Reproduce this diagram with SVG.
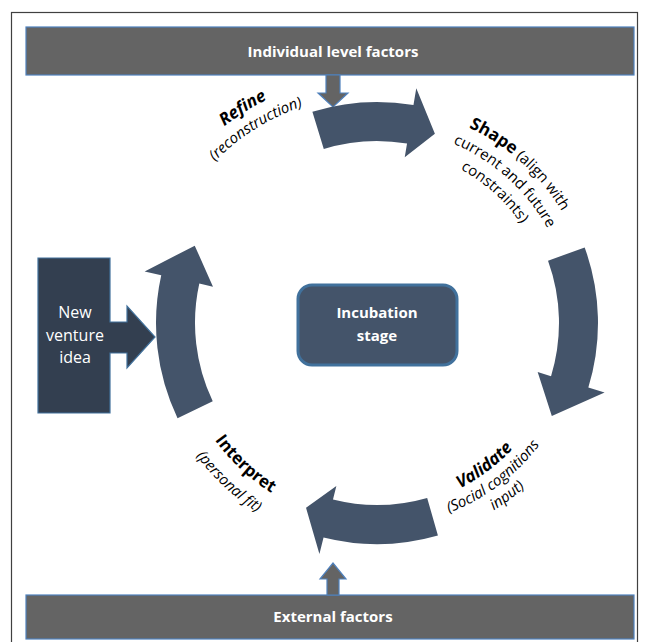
<svg xmlns="http://www.w3.org/2000/svg" width="649" height="642" viewBox="0 0 649 642">
<style>
.frame{fill:none;stroke:#404040;stroke-width:1.2}
.bar{fill:#646464;stroke:#4f81bd;stroke-width:1.2}
.cyc{fill:#44546a}
.lbl{font-family:"Open Sans","Liberation Sans",sans-serif;fill:#000;font-size:15px}
.b{font-weight:bold;font-size:17px}
.i{font-style:italic}
.w{font-family:"Open Sans","Liberation Sans",sans-serif;fill:#fff;text-anchor:middle}
</style>
<defs>
<path id="pShape1" d="M310.25,117.57 A216,216 0 0 1 588.28,367.91"/>
<path id="pShape2" d="M316.74,137.54 A195,195 0 0 1 567.74,363.54"/>
<path id="pShape3" d="M322.92,156.56 A175,175 0 0 1 548.18,359.38"/>
<path id="pVal1" d="M304.71,493.29 A185,185 0 0 0 560.62,300.45"/>
<path id="pVal2" d="M297.68,509.86 A203,203 0 0 0 578.49,298.26"/>
<path id="pVal3" d="M290.65,526.43 A221,221 0 0 0 596.35,296.07"/>
<path id="pInt1" d="M182.13,278.01 A200,200 0 0 0 435.47,514.26"/>
<path id="pInt2" d="M158.74,272.61 A224,224 0 0 0 442.49,537.21"/>
<path id="pRef1" d="M128.15,331.69 A249,249 0 0 1 493.90,103.15"/>
<path id="pRef2" d="M148.14,330.99 A229,229 0 0 1 484.51,120.80"/>
</defs>
<rect class="frame" x="11.5" y="12.5" width="626" height="640"/>

<g id="individual-factors">
<rect class="bar" x="26" y="27" width="608" height="48"/>
<text class="w" x="333" y="57" font-size="15" font-weight="bold">Individual level factors</text>
</g>
<g id="external-factors">
<rect class="bar" x="26" y="595" width="608" height="44"/>
<text class="w" x="333" y="622" font-size="15" font-weight="bold">External factors</text>
</g>
<g id="incubation">
<rect x="298" y="285" width="159" height="80" rx="14" fill="#44546a" stroke="#41719c" stroke-width="3"/>
<text class="w" font-size="15" font-weight="bold"><tspan x="377" y="318">Incubation</tspan><tspan x="377" y="341">stage</tspan></text>
</g>
<g id="new-venture-idea">
<path d="M38,258 H110 V322 H127 V306 L155,337 L127,368 V353 H110 V413 H38 Z" fill="#333f50" stroke="#41719c" stroke-width="1.2"/>
<text class="w" font-size="16"><tspan x="75" y="318">New</tspan><tspan x="75" y="341">venture</tspan><tspan x="75" y="363">idea</tspan></text>
</g>

<g id="connectors">
<path class="bar" d="M326,75 V93 H318 L333,107 L348,93 H340 V75 Z"/>
<path class="bar" d="M327,595 V579 H320 L333,563 L346,579 H339 V595 Z"/>
<path class="cyc" d="M312.39,111.66 A221,221 0 0 1 413.48,105.03 L416.28,88.26 L434.89,133.65 L404.73,157.30 L407.04,143.50 A182,182 0 0 0 323.79,148.95 Z"/>
<path class="cyc" d="M584.67,247.41 A221,221 0 0 1 588.34,387.61 L604.60,392.58 L551.82,415.96 L537.66,372.12 L551.05,376.21 A182,182 0 0 0 548.02,260.75 Z"/>
<path class="cyc" d="M437.92,535.44 A221,221 0 0 1 323.54,537.44 L319.42,553.93 L306.04,507.85 L336.36,486.01 L332.97,499.59 A182,182 0 0 0 427.17,497.95 Z"/>
<path class="cyc" d="M177.53,418.14 A221,221 0 0 1 161.24,275.17 L144.64,271.49 L194.74,245.63 L212.98,286.64 L199.31,283.61 A182,182 0 0 0 212.73,401.35 Z"/>
</g>

<g id="label-shape" class="lbl">
<text><textPath href="#pShape1" startOffset="50%" text-anchor="middle"><tspan class="b">Shape</tspan> (align with</textPath></text>
<text><textPath href="#pShape2" startOffset="50%" text-anchor="middle">current and future</textPath></text>
<text><textPath href="#pShape3" startOffset="50%" text-anchor="middle">constraints)</textPath></text>
</g>
<g id="label-validate" class="lbl">
<text><textPath href="#pVal1" startOffset="50%" text-anchor="middle"><tspan class="b i">Validate</tspan></textPath></text>
<text class="i"><textPath href="#pVal2" startOffset="50%" text-anchor="middle">(Social cognitions</textPath></text>
<text class="i"><textPath href="#pVal3" startOffset="50%" text-anchor="middle">input)</textPath></text>
</g>
<g id="label-interpret" class="lbl">
<text><textPath href="#pInt1" startOffset="50%" text-anchor="middle"><tspan class="b">Interpret</tspan></textPath></text>
<text class="i"><textPath href="#pInt2" startOffset="50%" text-anchor="middle">(personal fit)</textPath></text>
</g>
<g id="label-refine" class="lbl">
<text><textPath href="#pRef1" startOffset="50%" text-anchor="middle"><tspan class="b i">Refine</tspan></textPath></text>
<text class="i"><textPath href="#pRef2" startOffset="50%" text-anchor="middle">(reconstruction)</textPath></text>
</g>
</svg>
